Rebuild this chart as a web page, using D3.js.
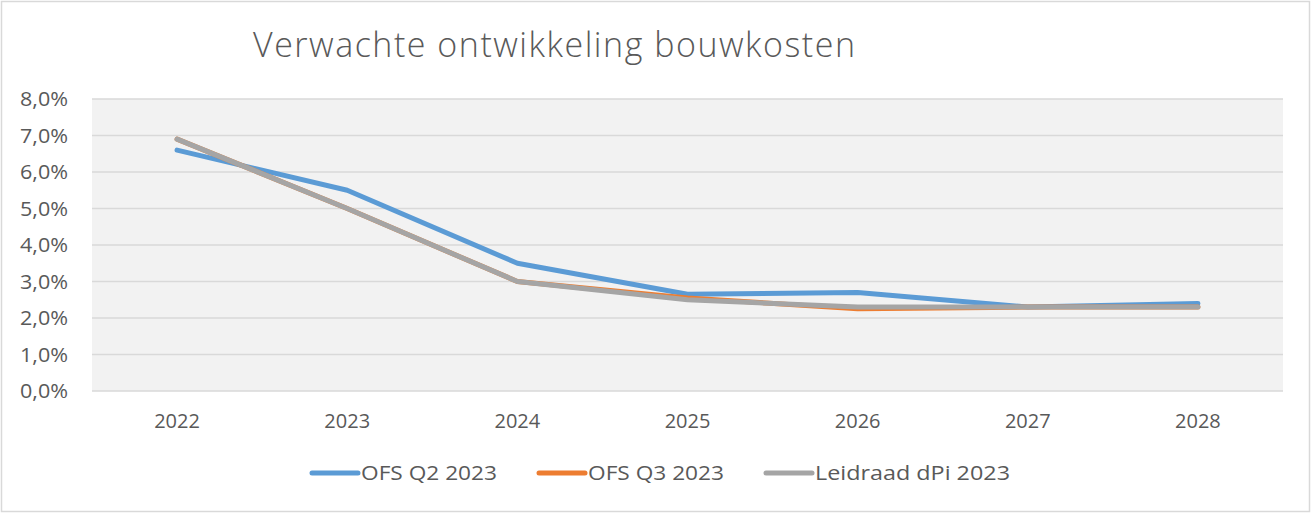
<!DOCTYPE html>
<html><head><meta charset="utf-8">
<script src="https://cdn.jsdelivr.net/npm/d3@7"></script>
<style>body{margin:0;background:#fff}svg{display:block}text{font-family:"Open Sans",Lato,sans-serif;fill:#595959}</style>
</head><body><svg id="c" width="1314" height="515"></svg>
<script>
const years = ["2022","2023","2024","2025","2026","2027","2028"];
const ofsQ2 = [6.6, 5.5, 3.5, 2.65, 2.7, 2.3, 2.4];
const ofsQ3 = [6.9, 5.0, 3.0, 2.55, 2.25, 2.3, 2.3];
const leidraad = [6.9, 5.0, 3.0, 2.5, 2.3, 2.3, 2.3];
const yTicks = [0,1,2,3,4,5,6,7,8];
const seriesNames = ["OFS Q2 2023","OFS Q3 2023","Leidraad dPi 2023"];
const colors = ["#5b9bd5","#ed7d31","#a5a5a5"];

(function(){
const svg = d3.select("#c");
svg.append("rect").attr("x",1.5).attr("y",1.5).attr("width",1308).attr("height",510)
  .attr("fill","#fff").attr("stroke","#d9d9d9").attr("stroke-width",1.5);

const pL=92, pR=1283, pT=99, pB=391;
const x = d3.scaleBand().domain(years).range([pL,pR]);
const y = d3.scaleLinear().domain([0,8]).range([pB,pT]);

svg.append("rect").attr("x",pL).attr("y",pT).attr("width",pR-pL).attr("height",pB-pT).attr("fill","#f2f2f2");

svg.append("g").selectAll("line").data(yTicks).join("line")
  .attr("x1",pL).attr("x2",pR).attr("y1",d=>y(d)).attr("y2",d=>y(d))
  .attr("stroke","#d9d9d9").attr("stroke-width",1.5);

svg.append("g").selectAll("text").data(yTicks).join("text")
  .attr("x",68).attr("y",d=>y(d)).attr("dy","0.36em").attr("text-anchor","end")
  .attr("font-size",20).attr("textLength",48).attr("lengthAdjust","spacingAndGlyphs")
  .text(d=>d3.format(".1f")(d).replace(".",",")+"%");

svg.append("g").selectAll("text").data(years).join("text")
  .attr("x",d=>x(d)+x.bandwidth()/2).attr("y",428).attr("text-anchor","middle")
  .attr("font-size",20).text(d=>d);

svg.append("text").attr("x",253).attr("y",57).attr("font-size",34).attr("font-weight",300)
  .attr("textLength",602).attr("lengthAdjust","spacing")
  .text("Verwachte ontwikkeling bouwkosten");

const line = d3.line().x((d,i)=>x(years[i])+x.bandwidth()/2).y(d=>y(d));
const all = [ofsQ2, ofsQ3, leidraad];
all.forEach((s,i)=>{
  svg.append("path").attr("d",line(s)).attr("fill","none").attr("stroke",colors[i])
    .attr("stroke-width",5).attr("stroke-linecap","round").attr("stroke-linejoin","round");
});

const legX = [312, 539, 766];
const legW = [136, 136, 195];
seriesNames.forEach((n,i)=>{
  svg.append("line").attr("x1",legX[i]).attr("x2",legX[i]+46).attr("y1",473).attr("y2",473)
    .attr("stroke",colors[i]).attr("stroke-width",5).attr("stroke-linecap","round");
  svg.append("text").attr("x",legX[i]+49).attr("y",473).attr("dy","0.36em").attr("font-size",20)
    .attr("textLength",legW[i]).attr("lengthAdjust","spacingAndGlyphs").text(n);
});
})();
</script></body></html>
